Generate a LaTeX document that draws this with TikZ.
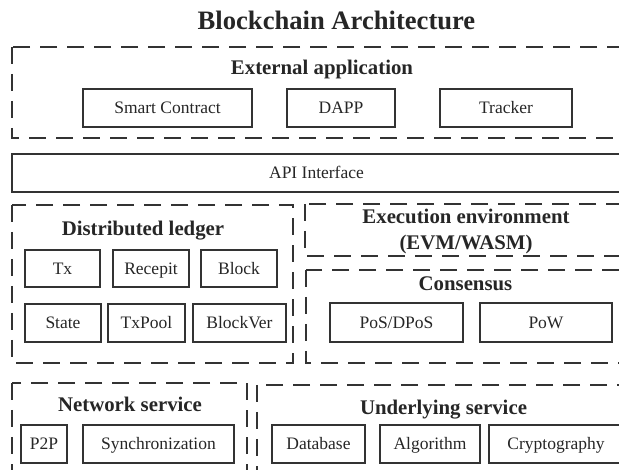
\documentclass[tikz,border=0pt]{standalone}
\usepackage{fontspec}
\setmainfont{Liberation Serif}
\definecolor{edge}{HTML}{333333}
\definecolor{ink}{HTML}{262626}
\begin{document}
\begin{tikzpicture}[x=1pt,y=-1pt,
  every node/.style={inner sep=0pt, outer sep=0pt, text=ink},
  sbox/.style={draw=edge, line width=1.8pt,
    font=\fontsize{17.5}{21}\selectfont, text height=11.6pt, text depth=0pt},
  group/.style={draw=edge, line width=1.8pt, dash pattern=on 17pt off 10pt},
  head/.style={font=\fontsize{20.8}{26.7}\selectfont\bfseries, anchor=base},
]
\useasboundingbox (0,0) rectangle (619,470);

% title
\node[font=\fontsize{26.6}{32}\selectfont\bfseries, anchor=base] (title) at (336.5,30) {Blockchain Architecture};

% external application layer
\draw[group] (12,47) rectangle (632,138);
\node[head] (exthead) at (322,74.5) {External application};
\node[sbox, minimum width=169pt, minimum height=38pt] (sc) at (167.5,108) {Smart Contract};
\node[sbox, minimum width=108pt, minimum height=38pt] (dapp) at (341,108) {DAPP};
\node[sbox, minimum width=132pt, minimum height=38pt] (tracker) at (506,108) {Tracker};

% API
\node[sbox, minimum width=609pt, minimum height=38pt] (api) at (316.5,173) {API Interface};

% distributed ledger
\draw[group] (12,205) rectangle (293,363);
\node[head] (ledgerhead) at (143,236) {Distributed ledger};
\node[sbox, minimum width=75pt, minimum height=37pt] (tx) at (62.5,268.5) {Tx};
\node[sbox, minimum width=76pt, minimum height=37pt] (rec) at (151,268.5) {Recepit};
\node[sbox, minimum width=76pt, minimum height=37pt] (blk) at (239,268.5) {Block};
\node[sbox, minimum width=76pt, minimum height=38pt] (state) at (63,323) {State};
\node[sbox, minimum width=77pt, minimum height=38pt] (pool) at (146.5,323) {TxPool};
\node[sbox, minimum width=93pt, minimum height=38pt] (bver) at (239.5,323) {BlockVer};

% execution environment
\draw[group] (305,204) rectangle (628,256);
\node[head] (exechead) at (466,224) {Execution environment};
\node[head] (execsub) at (466,250) {(EVM/WASM)};

% consensus
\draw[group] (306,270) rectangle (626,363);
\node[head] (conshead) at (465.5,291) {Consensus};
\node[sbox, minimum width=133pt, minimum height=39pt] (pos) at (396.5,322.5) {PoS/DPoS};
\node[sbox, minimum width=132pt, minimum height=39pt] (pow) at (546,322.5) {PoW};

% network service
\draw[group] (12,383) rectangle (247,490);
\node[head] (nethead) at (130,411.7) {Network service};
\node[sbox, minimum width=46pt, minimum height=38pt] (p2p) at (44,444) {P2P};
\node[sbox, minimum width=151pt, minimum height=38pt] (sync) at (158.5,444) {Synchronization};

% underlying service
\draw[group] (257,385) rectangle (630,470.5);
\node[head] (basehead) at (443.5,415) {Underlying service};
\node[sbox, minimum width=93pt, minimum height=38pt] (db) at (318.5,444) {Database};
\node[sbox, minimum width=100pt, minimum height=38pt] (algo) at (430,444) {Algorithm};
\node[sbox, minimum width=134pt, minimum height=38pt] (crypto) at (556,444) {Cryptography};
\end{tikzpicture}
\end{document}
